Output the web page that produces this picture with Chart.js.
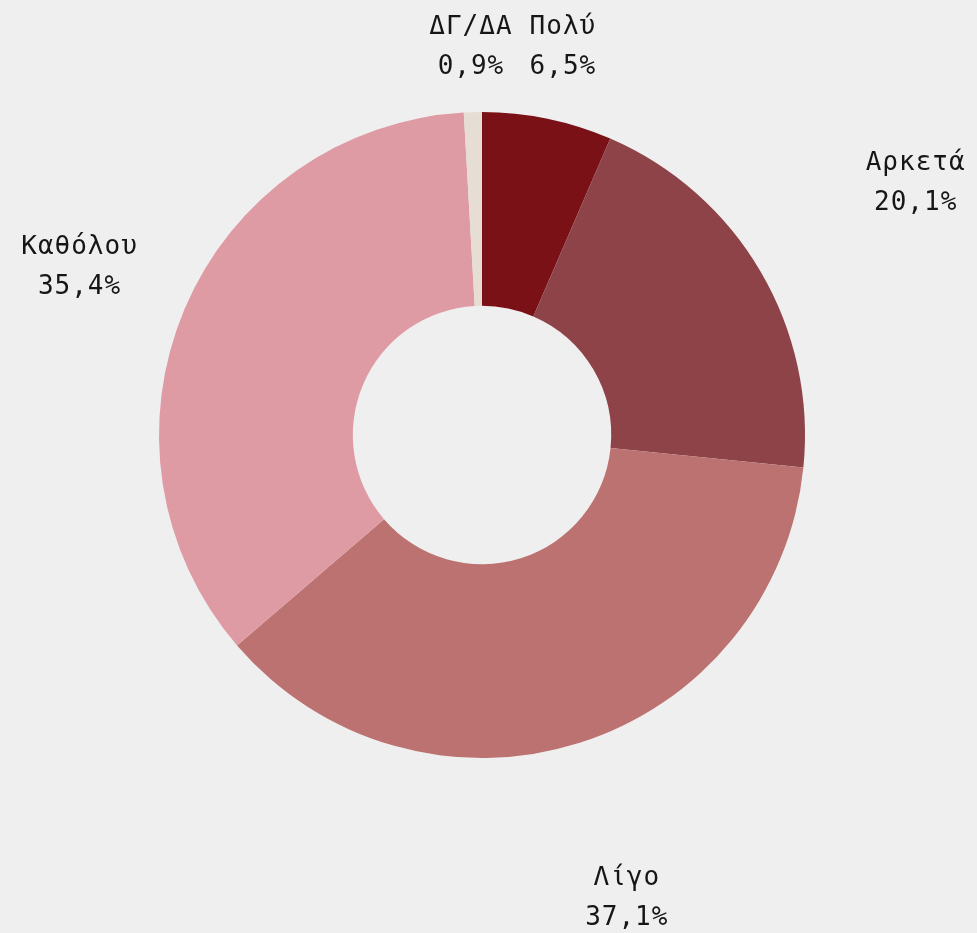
<!DOCTYPE html>
<html>
<head>
<meta charset="utf-8">
<script src="https://cdn.jsdelivr.net/npm/chart.js@4/dist/chart.umd.min.js"></script>
<style>
html,body{margin:0;padding:0;background:#efefef;}
#wrap{width:977px;height:933px;position:relative;}
</style>
</head>
<body>
<div id="wrap"><canvas id="c" width="977" height="933"></canvas></div>
<script>
const categories = ["Πολύ", "Αρκετά", "Λίγο", "Καθόλου", "ΔΓ/ΔΑ"];
const values = [6.5, 20.1, 37.1, 35.4, 0.9];
const valueLabels = ["6,5%", "20,1%", "37,1%", "35,4%", "0,9%"];
const colors = ["#7a1116", "#8e4348", "#bc7270", "#de9ba4", "#e6ddd4"];

const labelDistance = [1.235, 1.557, 1.494, 1.354, 1.21];

const outsideLabels = {
  id: 'outsideLabels',
  afterDraw(chart) {
    const ctx = chart.ctx;
    const meta = chart.getDatasetMeta(0);
    ctx.save();
    ctx.font = '26px "DejaVu Sans Mono", monospace';
    if ('letterSpacing' in ctx) ctx.letterSpacing = '1px';
    ctx.fillStyle = '#161616';
    ctx.textAlign = 'center';
    ctx.textBaseline = 'middle';
    meta.data.forEach((arc, i) => {
      const p = arc.getProps(['x','y','startAngle','endAngle','outerRadius'], true);
      const mid = (p.startAngle + p.endAngle) / 2;
      const r = p.outerRadius * labelDistance[i];
      const x = p.x + Math.cos(mid) * r;
      const y = p.y + Math.sin(mid) * r;
      ctx.fillText(categories[i], x, y - 17);
      ctx.fillText(valueLabels[i], x, y + 23);
    });
    ctx.restore();
  }
};

new Chart(document.getElementById('c'), {
  type: 'doughnut',
  data: {
    labels: categories,
    datasets: [{
      data: values,
      backgroundColor: colors,
      borderWidth: 0
    }]
  },
  options: {
    responsive: false,
    animation: false,
    cutout: '40%',
    layout: { padding: { top: 112, bottom: 175, left: 159, right: 172 } },
    plugins: { legend: { display: false }, tooltip: { enabled: false } }
  },
  plugins: [outsideLabels]
});
</script>
</body>
</html>
